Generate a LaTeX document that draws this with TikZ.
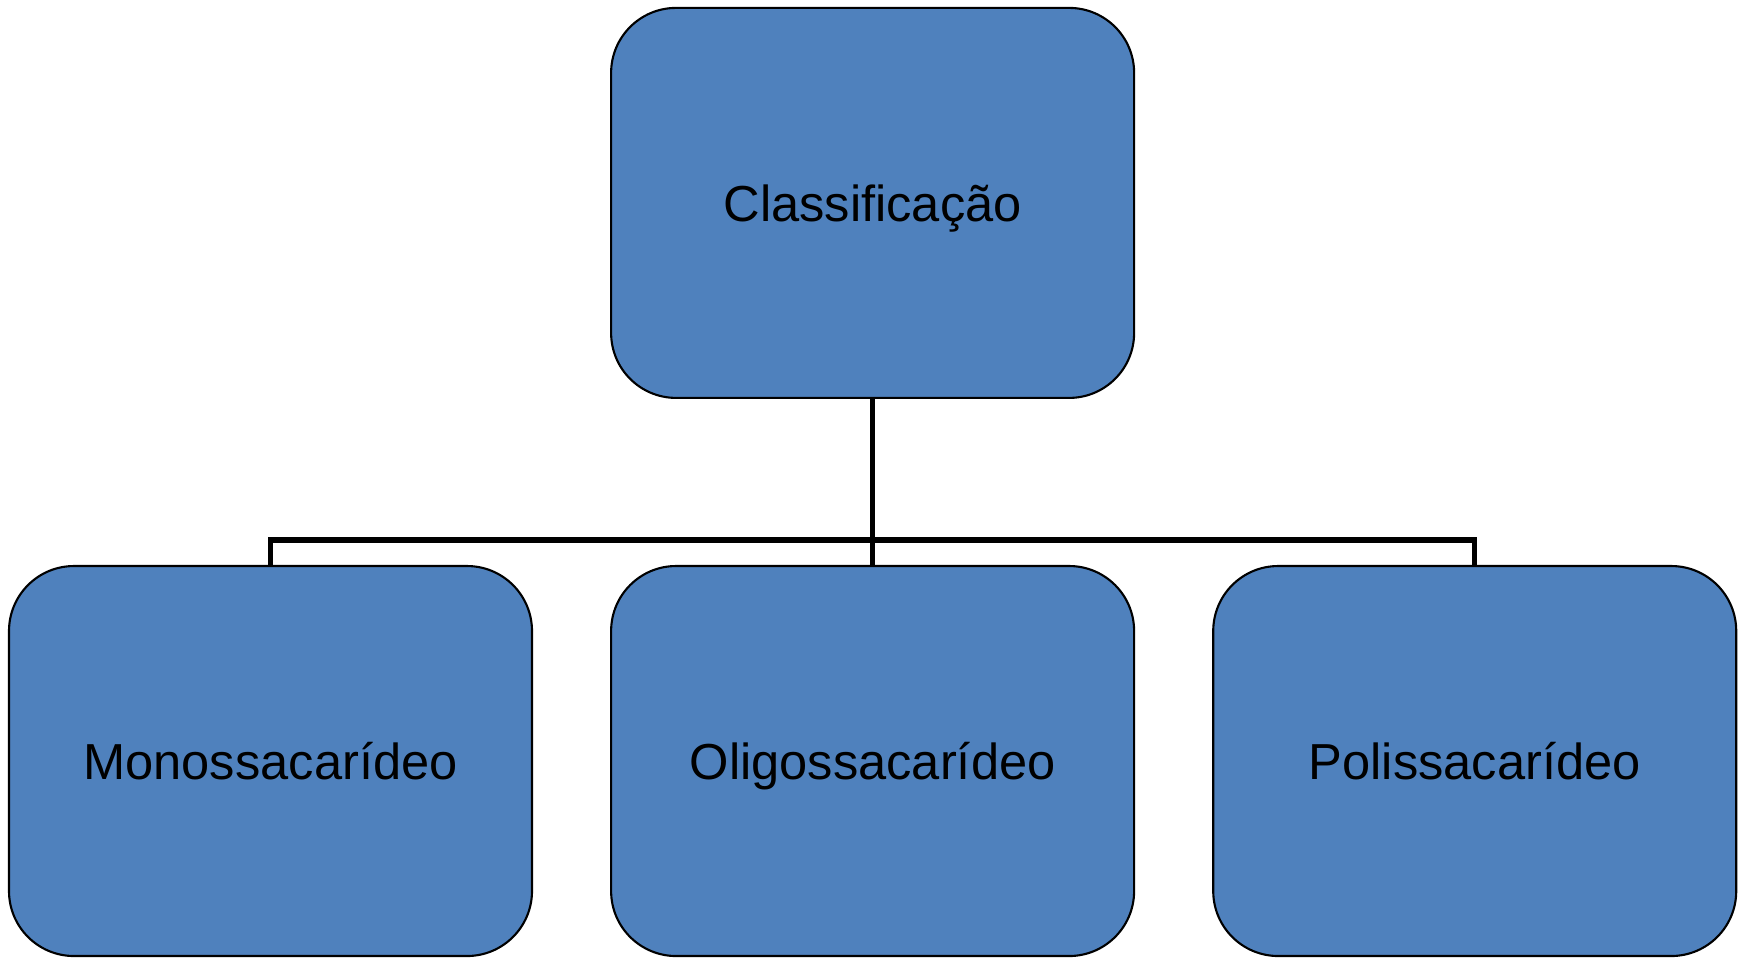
\documentclass[tikz,border=0pt]{standalone}
\usepackage{fontspec}
\setmainfont{Liberation Sans}
\usepackage{tikz}
\usetikzlibrary{positioning}
\usepackage{xcolor}
\definecolor{caixa}{HTML}{4F81BD}
\tikzstyle{classbox} = [rectangle, rounded corners=0.65cm, 
minimum width=5.23cm, 
minimum height=3.9cm,
text centered, 
text height=1.28em,
text depth=0.21em,
draw=black, 
line width=0.6pt,
fill=caixa,
font=\fontsize{14.4}{17}\selectfont]
\tikzstyle{link} = [line width=1.5pt, black]
\begin{document}
\begin{tikzpicture}[node distance=0.77cm]
			\useasboundingbox (0,0) rectangle (17.5,-9.57);
			
			\node (mono) [classbox] at (2.705,-7.61) {Monossacarídeo};
			\node (oligo) [classbox, right=of mono] {Oligossacarídeo};
			\node (poli) [classbox, right=of oligo] {Polissacarídeo};
			
			\node (classe) [classbox, above=1.66cm of oligo] {Classificação};
			
			\draw [link] (classe.south) -- (oligo.north);
			\draw [link] (mono.north) |- ([yshift=0.25cm]oligo.north) -| (poli.north);
			
\end{tikzpicture}
\end{document}
